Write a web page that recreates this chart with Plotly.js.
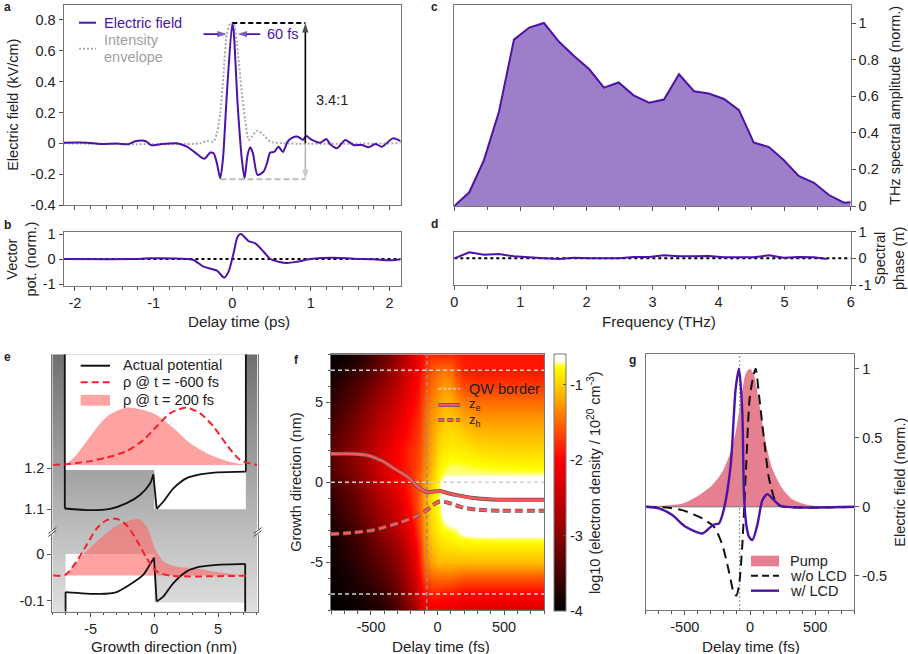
<!DOCTYPE html>
<html><head><meta charset="utf-8">
<script src="https://cdn.plot.ly/plotly-3.0.1.min.js"></script>
<style>html,body{margin:0;padding:0;background:#fff}#c{width:908px;height:654px}</style></head>
<body><div id="c"></div>
<script>
// ---- data ----
const aT=[-2.146,-1.849,-1.679,-1.467,-1.319,-1.234,-1.107,-1.022,-0.916,-0.704,-0.577,-0.471,-0.356,-0.28,-0.237,-0.195,-0.153,-0.119,-0.068,0,0.017,0.068,0.123,0.157,0.195,0.229,0.263,0.322,0.399,0.441,0.483,0.534,0.589,0.645,0.704,0.759,0.835,0.899,0.941,1.014,1.12,1.196,1.247,1.332,1.438,1.544,1.65,1.735,1.819,1.904,2.044,2.15];
const aField=[0.004,0.004,-0.004,-0.002,-0.006,0.013,0.015,-0.013,-0.006,0,-0.022,-0.06,-0.1,-0.06,-0.065,-0.13,-0.226,-0.108,0.324,0.775,0.733,0.259,-0.108,-0.226,-0.076,-0.026,-0.065,-0.205,-0.183,-0.13,-0.06,-0.056,-0.022,-0.056,0.011,0.035,0.043,0.022,0.047,0.022,0.004,0.028,-0.006,-0.032,0.022,-0.011,-0.011,-0.026,-0.004,-0.022,0.032,0.011];
const envT=[-2.146,-0.407,-0.322,-0.237,-0.195,-0.153,-0.11,-0.068,-0.025,0.017,0.059,0.123,0.165,0.208,0.25,0.314,0.399,0.483,0.653,2.14];
const envI=[0,0,0.015,0.011,0.065,0.194,0.453,0.712,0.777,0.781,0.647,0.324,0.151,0.022,0.043,0.082,0.054,0.011,0,0];
const bT=[-2.146,-1.255,-1.043,-0.577,-0.492,-0.365,-0.195,-0.102,-0.047,0.017,0.068,0.11,0.208,0.293,0.399,0.483,0.589,0.696,0.823,0.992,1.289,1.544,1.798,2.01,2.16];
const bPot=[0,0,0.027,0,-0.04,-0.307,-0.467,-0.747,-0.507,0.227,0.893,1,0.72,0.627,0.293,0,-0.107,-0.16,-0.107,0,0.053,0.013,-0.013,-0.053,0];
const cF=[0,0.227,0.449,0.676,0.903,1.135,1.357,1.589,1.816,2.043,2.265,2.487,2.714,2.947,3.174,3.401,3.628,3.85,4.082,4.309,4.531,4.763,4.985,5.212,5.444,5.671,5.898,6];
const cAmp=[0,0.075,0.251,0.515,0.909,0.975,1,0.896,0.818,0.747,0.647,0.675,0.605,0.565,0.582,0.72,0.627,0.615,0.585,0.524,0.347,0.322,0.251,0.164,0.127,0.06,0.018,0.02];
const dF=[0,0.227,0.449,0.676,0.903,1.135,1.357,1.589,1.816,2.043,2.265,2.487,2.714,2.947,3.174,3.401,3.628,3.85,4.082,4.309,4.531,4.763,4.985,5.212,5.444,5.646];
const dPhase=[0,0.225,0.138,0.163,0.075,0.025,0,-0.025,0.025,0,0,0,0.05,0.05,0.113,0.075,0.075,0.088,0.038,0.025,0.038,0.113,0.025,0.05,0.038,-0.025];
const eUpLeftX=[-7.02,-5.05,-3.48,-2.17,-1.13,-0.34,-0.08];
const eUpLeftV=[1.102,1.098,1.101,1.115,1.135,1.163,1.185];
const eUpRightX=[0.18,0.71,1.49,2.54,3.59,4.9,7.17];
const eUpRightV=[1.101,1.119,1.151,1.176,1.185,1.19,1.192];
const eLoLeftX=[-6.96,-4.27,-2.96,-1.91,-0.86,-0.21,-0.03];
const eLoLeftV=[-0.081,-0.085,-0.081,-0.065,-0.044,-0.016,-0.008];
const eLoRightX=[0.18,0.71,1.49,2.54,3.59,4.9,7.12];
const eLoRightV=[-0.101,-0.09,-0.062,-0.037,-0.027,-0.023,-0.021];
const rhoUpEarlyX=[-7.93,-6.96,-5.31,-3.74,-2.17,-0.86,0.18,1.23,2.49,3.59,4.63,5.68,6.73,8.04];
const rhoUpEarly=[1.208,1.21,1.216,1.226,1.242,1.269,1.302,1.334,1.348,1.334,1.302,1.257,1.22,1.208];
const rhoUpLateX=[-6.96,-6.1,-5.05,-3.74,-2.17,-0.86,0.18,1.49,2.8,4.11,5.68,7.17];
const rhoUpLate=[1.208,1.233,1.277,1.326,1.348,1.342,1.33,1.298,1.261,1.237,1.218,1.208];
const rhoLoEarlyX=[-7.93,-6.96,-6.1,-5.31,-4.53,-3.74,-2.96,-2.17,-1.39,-0.6,0.18,1.23,7.25];
const rhoLoEarly=[-0.046,-0.044,-0.016,0.019,0.054,0.072,0.075,0.061,0.03,-0.009,-0.037,-0.046,-0.046];
const rhoLoLateX=[-6.96,-5.84,-4.53,-3.22,-1.91,-1.13,-0.6,0.05,0.71,1.75,3.06,4.63,7.17];
const rhoLoLate=[-0.046,-0.009,0.026,0.056,0.072,0.074,0.058,0.012,-0.016,-0.027,-0.03,-0.037,-0.046];
const eBaseUp=1.208, eBaseLo=-0.046;
const fT=[-800,-600,-400,-300,-200,-150,-100,-50,0,50,100,150,200,300,500,800];
const fZ=[-8,-7,-6,-5,-4,-3.5,-3,-2,-1,0,0.5,1,2,3,4,5,6,7,8];
const fDensity=[
[-4.0,-3.95,-3.75,-3.45,-3.0,-2.6,-2.2,-2.15,-2.15,-2.15,-2.2,-2.2,-2.25,-2.25,-2.3,-2.3],
[-3.95,-3.85,-3.55,-3.25,-2.75,-2.35,-1.95,-1.85,-1.85,-1.9,-1.9,-1.95,-2.0,-2.0,-2.0,-2.0],
[-3.95,-3.75,-3.4,-3.1,-2.6,-2.15,-1.7,-1.55,-1.5,-1.5,-1.5,-1.55,-1.6,-1.6,-1.6,-1.6],
[-3.92,-3.65,-3.25,-2.95,-2.45,-2.0,-1.5,-1.25,-1.1,-1.1,-1.1,-1.1,-1.1,-1.1,-1.1,-1.1],
[-3.9,-3.55,-3.1,-2.8,-2.3,-1.9,-1.4,-1.1,-0.98,-0.92,-0.9,-0.88,-0.86,-0.85,-0.85,-0.85],
[-3.88,-3.5,-3.0,-2.68,-2.2,-1.82,-1.35,-1.05,-0.9,-0.85,-0.82,-0.78,-0.76,-0.74,-0.73,-0.73],
[-3.85,-3.45,-2.9,-2.55,-2.1,-1.75,-1.3,-1.0,-0.84,-0.78,-0.75,-0.72,-0.6,-0.55,-0.55,-0.55],
[-3.75,-3.3,-2.75,-2.4,-1.95,-1.65,-1.25,-0.95,-0.8,-0.64,-0.55,-0.55,-0.55,-0.55,-0.55,-0.55],
[-3.65,-3.2,-2.6,-2.25,-1.85,-1.6,-1.25,-0.95,-0.76,-0.58,-0.55,-0.55,-0.55,-0.55,-0.55,-0.55],
[-3.55,-3.05,-2.45,-2.1,-1.8,-1.6,-1.3,-1.05,-0.8,-0.6,-0.58,-0.58,-0.58,-0.58,-0.6,-0.6],
[-3.45,-3.0,-2.35,-2.05,-1.8,-1.6,-1.35,-1.1,-0.84,-0.73,-0.72,-0.72,-0.72,-0.72,-0.72,-0.72],
[-3.4,-2.95,-2.3,-2.0,-1.8,-1.65,-1.4,-1.15,-0.88,-0.78,-0.74,-0.74,-0.75,-0.77,-0.8,-0.82],
[-3.35,-2.9,-2.3,-2.0,-1.8,-1.7,-1.45,-1.2,-0.97,-0.88,-0.84,-0.86,-0.88,-0.92,-0.97,-0.97],
[-3.45,-3.0,-2.4,-2.1,-1.9,-1.75,-1.5,-1.25,-1.05,-0.97,-0.94,-0.97,-1.0,-1.1,-1.12,-1.12],
[-3.55,-3.1,-2.55,-2.25,-1.95,-1.8,-1.55,-1.3,-1.15,-1.05,-1.05,-1.1,-1.2,-1.28,-1.28,-1.28],
[-3.65,-3.25,-2.7,-2.4,-2.05,-1.9,-1.6,-1.4,-1.25,-1.15,-1.15,-1.3,-1.4,-1.48,-1.48,-1.48],
[-3.75,-3.4,-2.9,-2.55,-2.15,-1.95,-1.7,-1.5,-1.35,-1.25,-1.3,-1.5,-1.65,-1.72,-1.72,-1.72],
[-3.9,-3.6,-3.1,-2.7,-2.3,-2.05,-1.8,-1.6,-1.5,-1.45,-1.5,-1.7,-1.85,-1.9,-1.9,-1.9],
[-4.0,-3.8,-3.3,-2.9,-2.4,-2.1,-1.9,-1.8,-1.8,-1.85,-1.8,-1.85,-1.9,-1.9,-1.9,-1.9]];
const zeT=[-802,-647,-521,-421,-321,-221,-145,-83,18,80,155,256,406,607,800];
const zeV=[1.77,1.77,1.67,1.35,0.83,0.31,-0.31,-0.62,-0.56,-0.69,-0.83,-0.98,-1.08,-1.1,-1.1];
const zhT=[-800,-647,-496,-396,-271,-145,-83,-33,18,80,180,306,481,800];
const zhV=[-3.25,-3.17,-3.02,-2.81,-2.5,-2.08,-1.77,-1.42,-1.21,-1.29,-1.56,-1.73,-1.79,-1.79];
const qwBorders=[7,0,-7];
const delayLine=-80;
const pumpT=[-795,-519,-391,-289,-212,-148,-110,-72,-33,0,31,69,120,171,248,325,427,555,806];
const pumpV=[0.002,0.024,0.084,0.157,0.253,0.398,0.542,0.759,0.964,1,0.952,0.759,0.47,0.277,0.133,0.055,0.017,0.002,0];
const noLcdT=[-795,-621,-519,-366,-276,-212,-161,-123,-105,-84,-59,-28,0,43,69,107,146,197,235,806];
const noLcdV=[0,-0.007,-0.024,-0.084,-0.145,-0.277,-0.47,-0.627,-0.643,-0.566,-0.277,0.325,0.807,1,0.807,0.494,0.205,0.036,0.005,0];
const lcdT=[-795,-698,-596,-494,-366,-315,-276,-238,-199,-148,-110,-84,-59,-46,-28,-8,18,56,95,133,184,235,806];
const lcdV=[0,-0.012,-0.06,-0.145,-0.193,-0.157,-0.128,-0.12,-0.012,0.301,0.855,1,0.687,0.084,-0.133,-0.217,-0.241,-0.133,0.048,0.092,0.048,0.007,0];
// tick labels
const aYv=[-0.4,-0.2,0,0.2,0.4,0.6,0.8], aYt=['-0.4','-0.2','0','0.2','0.4','0.6','0.8'];
const psV=[-2,-1,0,1,2], psT=['-2','-1','0','1','2'];
const unitV=[-1,0,1], unitT=['-1','0','1'];
const cYv=[0,0.2,0.4,0.6,0.8,1], cYt=['0','0.2','0.4','0.6','0.8','1'];
const thzV=[0,1,2,3,4,5,6], thzT=['0','1','2','3','4','5','6'];
const nmV=[-5,0,5], nmT=['-5','0','5'];
const fsV=[-500,0,500], fsT=['-500','0','500'];
const gYv=[-0.5,0,0.5,1], gYt=['-0.5','0','0.5','1'];
const cbV=[-1,-2,-3,-4], cbT=['-1','-2','-3','-4'], cbHalf=[-1.5,-2.5,-3.5];

// ---- layout helpers ----
const W=908,H=654,FS=14.5,FONT='"Liberation Sans",Arial,sans-serif',INK='#222';
const PURPLE='#4b13a8',GREY='#777';
const tf={family:FONT,size:FS,color:INK};
const dx=(a,b)=>[a/W,b/W], dy=(a,b)=>[1-b/H,1-a/H];
const px=v=>v/W, py=v=>1-v/H;
function axis(dom,range,anchor,o){return Object.assign({domain:dom,range,anchor,showline:true,mirror:true,linecolor:GREY,linewidth:1,
  ticks:'outside',ticklen:4,tickcolor:'#555',tickwidth:1,zeroline:false,showgrid:false,tickfont:tf,tickmode:'array',fixedrange:true},o||{});}
const minor=d=>({dtick:d,tick0:0,ticks:'outside',ticklen:2.5,tickcolor:'#555',tickwidth:1,showgrid:false});
const ttl=(t,s)=>({text:t,font:tf,standoff:s});
const xrA=[-2.146,2.14], frng=[-800,800];
const layout={width:W,height:H,margin:{l:0,r:0,t:0,b:0},paper_bgcolor:'#fff',plot_bgcolor:'rgba(0,0,0,0)',showlegend:false,font:tf,
 xaxis:axis(dx(63.5,400.5),xrA,'y',{tickvals:psV,showticklabels:false,minor:minor(0.2)}),
 yaxis:axis(dy(4.5,205),[-0.4,0.9],'x',{tickvals:aYv,ticktext:aYt,title:ttl('Electric field (kV/cm)',8)}),
 xaxis2:axis(dx(63.5,400.5),xrA,'y2',{tickvals:psV,ticktext:psT,minor:minor(0.2)}),
 yaxis2:axis(dy(232.3,286),[-1.08,1.07],'x2',{tickvals:unitV,ticktext:unitT,title:ttl('Vector<br>pot. (norm.)',2)}),
 xaxis3:axis(dx(454.3,850.7),[0,6],'y3',{tickvals:thzV,showticklabels:false,minor:minor(0.5)}),
 yaxis3:axis(dy(4.7,206),[0,1.1],'x3',{side:'right',tickvals:cYv,ticktext:cYt,title:ttl('THz spectral amplitude (norm.)',12)}),
 xaxis4:axis(dx(454.3,850.7),[0,6],'y4',{tickvals:thzV,ticktext:thzT,minor:minor(0.5)}),
 yaxis4:axis(dy(231.7,285),[-1,1],'x4',{side:'right',tickvals:unitV,ticktext:unitT,title:ttl('Spectral<br>phase (&#960;)',4)}),
 xaxis5:axis(dx(52.3,257.7),[-8,8.1],'y5',{showticklabels:false,ticks:'',mirror:false,showline:false}),
 yaxis5:axis(dy(354.3,516),[1.0837,1.478],'x5',{tickvals:[1.1,1.2],ticktext:['1.1','1.2']}),
 xaxis6:axis(dx(52.3,257.7),[-8,8.1],'y6',{mirror:false,tickvals:nmV,ticktext:nmT,minor:minor(1)}),
 yaxis6:axis(dy(516,611.7),[-0.1228,0.0809],'x6',{tickvals:[-0.1,0],ticktext:['-0.1','0']}),
 xaxis7:axis(dx(331,544),frng,'y7',{tickvals:fsV,ticktext:fsT,minor:minor(100)}),
 yaxis7:axis(dy(354.3,610),[-8,8],'x7',{tickvals:nmV,ticktext:nmT,minor:minor(1),title:ttl('Growth direction (nm)',5)}),
 xaxis8:axis(dx(645.7,854.3),frng,'y8',{tickvals:fsV,ticktext:fsT,minor:minor(100)}),
 yaxis8:axis(dy(354.3,610),[-0.747,1.104],'x8',{side:'right',tickvals:gYv,ticktext:gYt,title:ttl('Electric field (norm.)',8)}),
 annotations:[],shapes:[]};

function text(x,y,t,o){layout.annotations.push(Object.assign({xref:'paper',yref:'paper',x:px(x),y:py(y),text:t,showarrow:false,xanchor:'left',yanchor:'middle',font:tf},o||{}));}
function sample(x0,x1,y,color,width,dash){layout.shapes.push({type:'line',xref:'paper',yref:'paper',x0:px(x0),x1:px(x1),y0:py(y),y1:py(y),line:{color,width,dash:dash||'solid'},layer:'above'});}
function swatch(x0,x1,y0,y1,color){layout.shapes.push({type:'rect',xref:'paper',yref:'paper',x0:px(x0),x1:px(x1),y0:py(y0),y1:py(y1),fillcolor:color,line:{width:0},layer:'above'});}
// panel letters
[['a',2,7],['b',2,225],['c',429,7],['d',429,224],['e',2,357],['f',292,360],['g',627,360]].forEach(l=>text(l[1],l[2],'<b>'+l[0]+'</b>',{font:{family:FONT,size:12,color:INK}}));
// x-axis titles (centred where the reference has them)
const XT={family:FONT,size:15.2,color:INK};
[['Delay time (ps)',239,321],['Frequency (THz)',659,321],['Growth direction (nm)',164,646],['Delay time (fs)',441,646],['Delay time (fs)',750.7,646]]
 .forEach(t=>text(t[1],t[2],t[0],{xanchor:'center',font:XT}));

// ---- traces ----
const L=(xa,ya,x,y,color,width,dash,extra)=>Object.assign({type:'scatter',mode:'lines',xaxis:xa,yaxis:ya,x,y,line:{color,width,dash:dash||'solid'},hoverinfo:'skip'},extra||{});
const curve=(xa,ya,x,y,color,width,dash)=>{const t=L(xa,ya,x,y,color,width,dash);t.line.shape='spline';t.line.smoothing=0.7;return t;};
const BLK='#111';
const traces=[];
function arrow(xa,ya,tx,ty,hx,hy,color,w){traces.push(L(xa,ya,[tx,hx],[ty,hy],color,w,'solid',{mode:'lines+markers',cliponaxis:false,marker:{symbol:'arrow',angleref:'previous',size:[0,10],color,line:{width:0}}}));}
// a
traces.push(curve('x','y',envT,envI,'#aaa',2,'2px,2px'));
traces.push(L('x','y',[0,0.93],[0.78,0.78],'#000',2,'5px,3px'));
traces.push(L('x','y',[-0.15,0.93],[-0.233,-0.233],'#bdbdbd',2,'6px,3px'));
traces.push(curve('x','y',aT,aField,PURPLE,2));
arrow('x','y',0.93,0.02,0.93,-0.233,'#b5b5b5',1.6);
arrow('x','y',0.93,0,0.93,0.78,'#000',1.6);
arrow('x','y',-0.365,0.708,-0.068,0.708,PURPLE,1.6);
arrow('x','y',0.356,0.708,0.068,0.708,PURPLE,1.6);
text(265,34,'60 fs',{font:{family:FONT,size:FS,color:PURPLE}});
text(314,100,'3.4:1');
sample(79,96,22.7,PURPLE,2); text(102,22.7,'Electric field',{font:{family:FONT,size:FS,color:PURPLE}});
sample(79,96,48.7,'#aaa',2,'2px,2px');
text(102,40,'Intensity',{font:{family:FONT,size:FS,color:'#a0a0a0'}});
text(102,56.7,'envelope',{font:{family:FONT,size:FS,color:'#a0a0a0'}});
// b
traces.push(L('x2','y2',xrA,[0,0],'#000',2,'3px,3px'));
traces.push(curve('x2','y2',bT,bPot,PURPLE,2));
// c
traces.push(L('x3','y3',cF,cAmp,PURPLE,2,'solid',{fill:'tozeroy',fillcolor:'#9d7fc9'}));
// d
traces.push(L('x4','y4',[0,6],[0,0],'#000',2,'3px,3px'));
traces.push(L('x4','y4',dF,dPhase,PURPLE,2));
// e
const gradient={type:'heatmap',zsmooth:'best',showscale:false,zmin:0,zmax:255,colorscale:[[0,'#000'],[1,'#fff']],hoverinfo:'skip'};
traces.push(Object.assign({},gradient,{xaxis:'x5',yaxis:'y5',x:[-8.1,8.1],y:[1.0837,1.478],z:[[183,183],[112,112]]}));
traces.push(Object.assign({},gradient,{xaxis:'x6',yaxis:'y6',x:[-8.1,8.1],y:[-0.1228,0.0809],z:[[224,224],[183,183]]}));
const WH={fill:'toself',fillcolor:'#fff'};
traces.push(L('x5','y5',[-7.02,7.17,7.17,0,0,-7.02,-7.02],[1.478,1.478,1.1,1.1,1.196,1.196,1.478],'rgba(0,0,0,0)',0,'solid',WH));
traces.push(L('x6','y6',[-6.96,0,0,7.17,7.17,-6.96,-6.96],[0,0,-0.103,-0.103,-0.1228,-0.1228,0],'rgba(0,0,0,0)',0,'solid',WH));
const PINK='rgba(255,100,100,0.6)',RED='#f5202a';
traces.push(L('x5','y5',[-6.96,7.17],[eBaseUp,eBaseUp],'rgba(0,0,0,0)',0));
traces.push(curve('x5','y5',rhoUpLateX,rhoUpLate,'rgba(0,0,0,0)',0));
traces[traces.length-1].fill='tonexty';traces[traces.length-1].fillcolor=PINK;
traces.push(L('x5','y5',[-7.02,-7.02],[1.478,1.102],BLK,1.8));
traces.push(curve('x5','y5',eUpLeftX,eUpLeftV,BLK,1.8));
traces.push(L('x5','y5',[-0.08,0.18],[1.185,1.101],BLK,1.8));
traces.push(curve('x5','y5',eUpRightX,eUpRightV,BLK,1.8));
traces.push(L('x5','y5',[7.17,7.17],[1.192,1.478],BLK,1.8));
traces.push(curve('x5','y5',rhoUpEarlyX,rhoUpEarly,RED,2,'7px,4px'));
traces.push(L('x6','y6',[-6.96,7.17],[eBaseLo,eBaseLo],'rgba(0,0,0,0)',0));
traces.push(curve('x6','y6',rhoLoLateX,rhoLoLate,'rgba(0,0,0,0)',0));
traces[traces.length-1].fill='tonexty';traces[traces.length-1].fillcolor=PINK;
traces.push(L('x6','y6',[-6.96,-6.96],[-0.1228,-0.081],BLK,1.8));
traces.push(curve('x6','y6',eLoLeftX,eLoLeftV,BLK,1.8));
traces.push(L('x6','y6',[-0.03,0.18],[-0.008,-0.101],BLK,1.8));
traces.push(curve('x6','y6',eLoRightX,eLoRightV,BLK,1.8));
traces.push(L('x6','y6',[7.12,7.12],[-0.021,-0.1228],BLK,1.8));
traces.push(curve('x6','y6',rhoLoEarlyX,rhoLoEarly,RED,2,'7px,4px'));
sample(80.7,110,365.7,BLK,2); text(120.7,365,'Actual potential');
sample(80.7,110,382.3,RED,2,'7px,4px'); text(120.7,382,'&#961; @ t = -600 fs');
swatch(80.7,110,395,405.7,'#ffa3a3'); text(120.7,400,'&#961; @ t = 200 fs');
// axis break marks
[52.3,257.7].forEach(x=>{
  layout.shapes.push({type:'line',xref:'paper',yref:'paper',x0:px(x),x1:px(x),y0:py(529.5),y1:py(534.5),line:{color:'#fff',width:3},layer:'above'});
  [-1.5,1.5].forEach(d=>layout.shapes.push({type:'line',xref:'paper',yref:'paper',x0:px(x-4),x1:px(x+4),y0:py(535+d),y1:py(529+d),line:{color:'#444',width:1},layer:'above'}));
});
// f
const cbY=v=>354.3+(v+0.6)/(-3.4)*(611-354.3);
traces.push({type:'heatmap',xaxis:'x7',yaxis:'y7',x:fT,y:fZ,z:fDensity,zsmooth:'best',zmin:-4,zmax:-0.6,hoverinfo:'skip',
 colorscale:[[0,'#000'],[0.294,'#8a0000'],[0.588,'#ff0000'],[0.947,'#ffff00'],[0.965,'#ffff90'],[0.974,'#fff'],[1,'#fff']],
 colorbar:{x:554/W,xanchor:'left',xpad:0,y:py(354.3),yanchor:'top',ypad:0,len:(611-354.3)/H,lenmode:'fraction',thickness:12,thicknessmode:'pixels',
  outlinecolor:GREY,outlinewidth:1,tickmode:'array',tickvals:cbV,ticktext:cbT,ticks:'inside',ticklen:3,tickcolor:'#555',tickfont:tf,
  title:{text:'log10 (electron density / 10<sup>20</sup> cm<sup>-3</sup>)',side:'right',font:tf}}});
cbHalf.forEach(v=>layout.shapes.push({type:'line',xref:'paper',yref:'paper',x0:px(563),x1:px(566),y0:py(cbY(v)),y1:py(cbY(v)),line:{color:'#555',width:1},layer:'above'}));
qwBorders.forEach(z=>traces.push(L('x7','y7',frng,[z,z],'#d0d0d0',1.5,'4px,3px')));
traces.push(L('x7','y7',[delayLine,delayLine],[-8,8],'#909090',1.5,'4px,3px'));
traces.push(curve('x7','y7',zeT,zeV,'#555',4));
traces.push(curve('x7','y7',zeT,zeV,'#ff5555',2.6));
traces.push(curve('x7','y7',zhT,zhV,'#555',4,'8px,4px'));
traces.push(curve('x7','y7',zhT,zhV,'#ff5555',2.6,'8px,4px'));
sample(438.3,460,388.7,'#d0d0d0',1.5,'3px,2px'); text(466.7,388.7,'QW border');
sample(438.3,460,405,'#555',4); sample(438.3,460,405,'#ff5555',2.6); text(466.7,404,'z<sub>e</sub>',{font:{family:FONT,size:13,color:INK}});
sample(438.3,460,420,'#555',4,'6px,3px'); sample(438.3,460,420,'#ff5555',2.6,'6px,3px'); text(466.7,420.5,'z<sub>h</sub>',{font:{family:FONT,size:13,color:INK}});
// g
const PUMP='#e67f90';
traces.push(L('x8','y8',pumpT,pumpV,'rgba(0,0,0,0)',0,'solid',{fill:'tozeroy',fillcolor:PUMP,line:{color:'rgba(0,0,0,0)',width:0,shape:'spline',smoothing:0.7}}));
traces.push(L('x8','y8',frng,[0,0],'#777',1));
traces.push(L('x8','y8',[delayLine,delayLine],[-0.747,1.104],'#a0a0a0',1.3,'2px,2px'));
traces.push(curve('x8','y8',noLcdT,noLcdV,'#111',2,'10px,6px'));
traces.push(curve('x8','y8',lcdT,lcdV,PURPLE,2.4));
swatch(751,779,555.7,566.3,PUMP); text(787.7,560.7,'Pump');
sample(751,779,575.7,'#111',2,'7px,4px'); text(787.7,575.7,'w/o LCD');
sample(751,779,590.7,PURPLE,2.4); text(787.7,590.7,'w/ LCD');

Plotly.newPlot('c',traces,layout,{displayModeBar:false,staticPlot:true});
</script></body></html>
